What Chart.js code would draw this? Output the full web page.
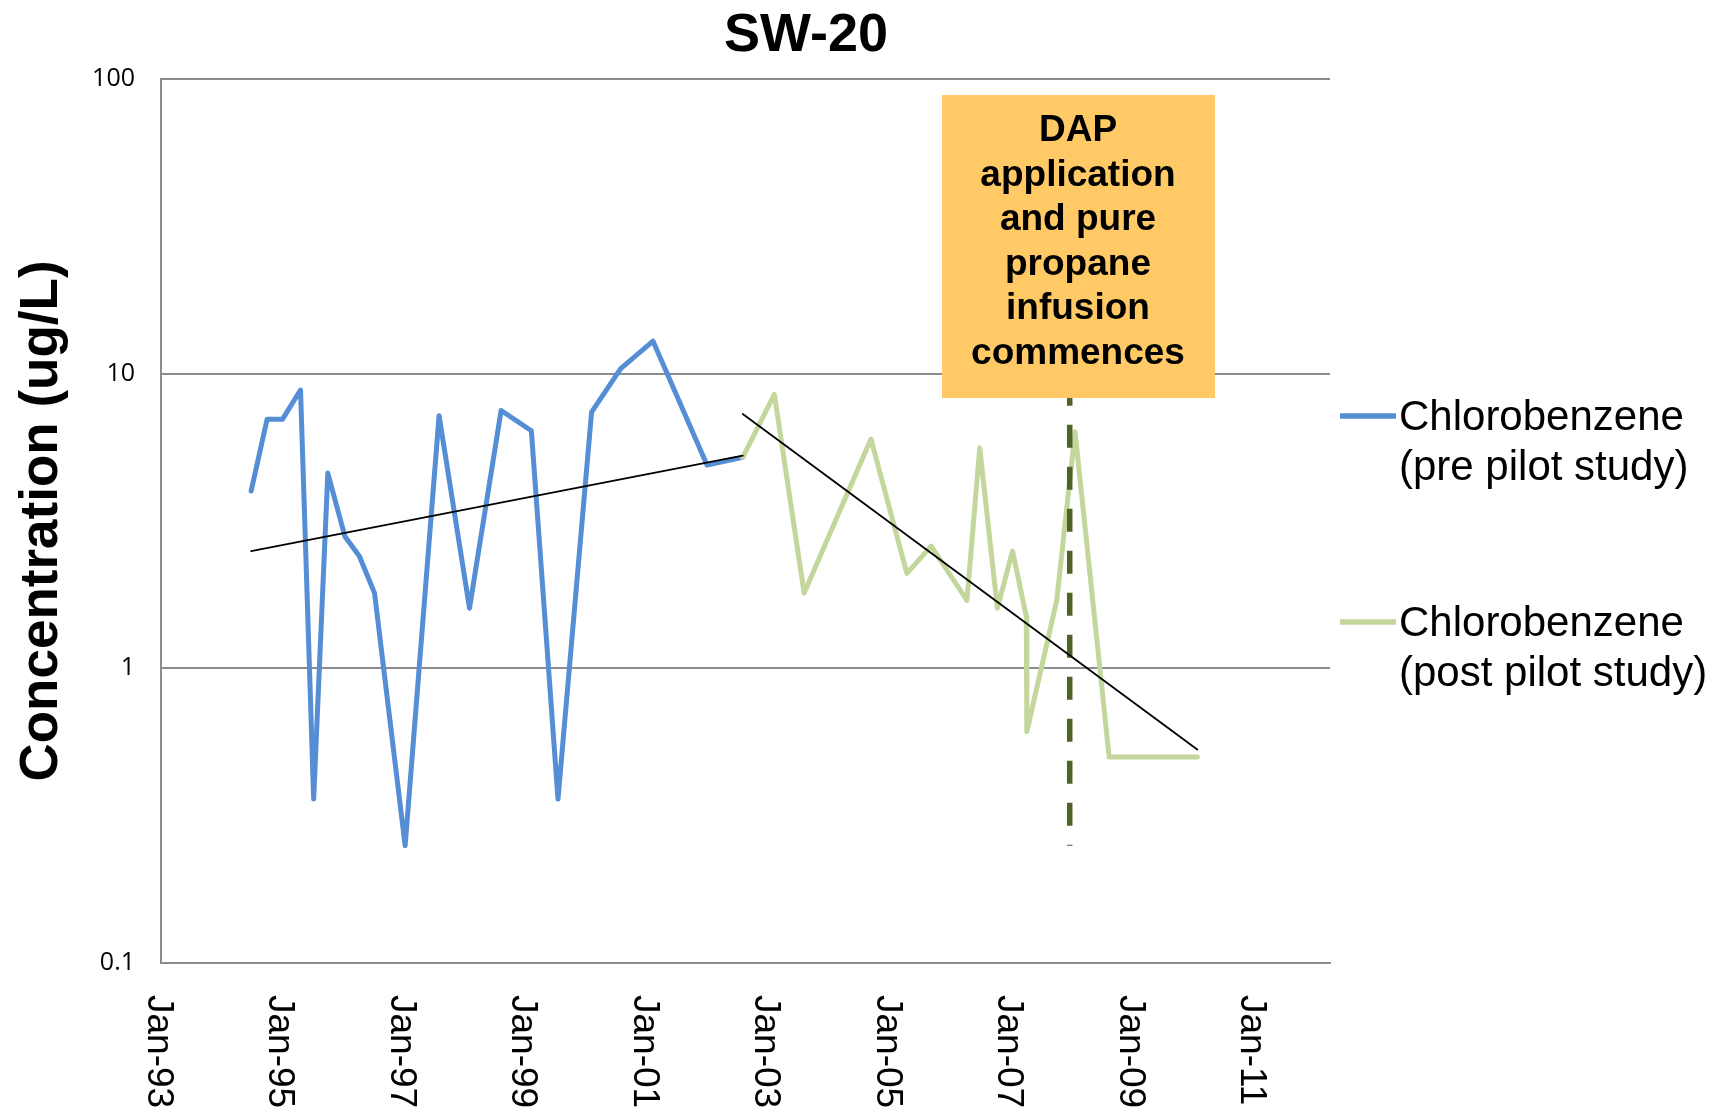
<!DOCTYPE html>
<html>
<head>
<meta charset="utf-8">
<title>SW-20</title>
<script src="https://cdn.jsdelivr.net/npm/chart.js@4.4.1/dist/chart.umd.min.js"></script>
<style>
  html, body { margin: 0; padding: 0; background: #fff; }
  #wrap { width: 1729px; height: 1111px; }
</style>
</head>
<body>
<div id="wrap"><canvas id="sw20Chart" width="1729" height="1111"></canvas></div>
<script>
// Chlorobenzene results (ug/L) before the pilot study
const preDates = ['1994-06-27', '1994-10-01', '1995-01-01', '1995-04-20', '1995-07-08', '1995-10-01',
    '1996-01-12', '1996-04-08', '1996-07-08', '1997-01-08', '1997-07-31', '1998-01-30',
    '1998-08-08', '1999-02-06', '1999-07-16', '2000-02-03', '2000-07-27', '2001-02-06',
    '2001-12-28', '2002-07-31'];
const preValues = [4.0, 7.0, 7.0, 8.8, 0.36, 4.6, 2.8, 2.4, 1.8, 0.25, 7.2, 1.6,
    7.5, 6.4, 0.36, 7.4, 10.4, 12.9, 4.9, 5.2];

// Chlorobenzene results (ug/L) after the pilot study
const postDates = ['2002-07-31', '2003-02-06', '2003-08-04', '2004-09-09', '2005-04-13', '2005-09-06',
    '2006-04-09', '2006-06-25', '2006-10-09', '2007-01-08', '2007-04-01', '2007-04-04',
    '2007-10-01', '2008-01-19', '2008-08-11', '2010-01-23'];
const postValues = [5.2, 8.5, 1.8, 6.0, 2.1, 2.6, 1.7, 5.6, 1.6, 2.5, 1.5, 0.61,
    1.7, 6.35, 0.5, 0.5];

// Trend lines (end points)
const preTrendDates = ['1994-06-27', '2002-07-31'];
const preTrendValues = [2.5, 5.27];
const postTrendDates = ['2002-07-31', '2010-01-23'];
const postTrendValues = [7.3, 0.53];

// DAP / propane start marker
const dapDates = ['2007-12-18', '2007-12-18'];
const dapValues = [10, 0.25];

// Axes
const xRange = ['1993-01-01', '2012-03-31'];
const xTickDates = ['1993-01-01', '1995-01-01', '1997-01-01', '1999-01-01', '2001-01-01',
    '2003-01-01', '2005-01-01', '2007-01-01', '2009-01-01', '2011-01-01'];
const xTickLabels = ['Jan-93', 'Jan-95', 'Jan-97', 'Jan-99', 'Jan-01',
    'Jan-03', 'Jan-05', 'Jan-07', 'Jan-09', 'Jan-11'];
const yTickValues = [0.1, 1, 10, 100];
const yTickLabels = ['0.1', '1', '10', '100'];

// Texts
const chartTitle = 'SW-20';
const yTitle = 'Concentration (ug/L)';
const legendPre = ['Chlorobenzene', '(pre pilot study)'];
const legendPost = ['Chlorobenzene', '(post pilot study)'];
const noteLines = ['DAP', 'application', 'and pure', 'propane', 'infusion', 'commences'];

const FONT = "'Liberation Sans', Arial, sans-serif";
const toTime = s => Date.parse(s + 'T00:00:00Z');
const toPoints = (dates, values) => dates.map((d, i) => ({ x: toTime(d), y: values[i] }));

// Rotated date labels under the x axis
const xLabelPlugin = {
    id: 'xLabels',
    afterDraw(chart) {
        const ctx = chart.ctx;
        const scale = chart.scales.x;
        const top = chart.chartArea.bottom + 32;
        ctx.save();
        ctx.font = '37px ' + FONT;
        ctx.fillStyle = '#000';
        ctx.textAlign = 'left';
        ctx.textBaseline = 'alphabetic';
        scale.ticks.forEach((t, i) => {
            const x = scale.getPixelForValue(t.value);
            ctx.save();
            ctx.translate(x - 13, top);
            ctx.rotate(Math.PI / 2);
            ctx.fillText(xTickLabels[i], 0, 0);
            ctx.restore();
        });
        ctx.restore();
    }
};

// Title and vertical axis title
const titlePlugin = {
    id: 'titles',
    afterDraw(chart) {
        const ctx = chart.ctx;
        ctx.save();
        ctx.fillStyle = '#000';
        ctx.textAlign = 'center';
        ctx.textBaseline = 'alphabetic';
        ctx.font = 'bold 54px ' + FONT;
        ctx.fillText(chartTitle, 806, 51);
        ctx.translate(57, 521);
        ctx.rotate(-Math.PI / 2);
        ctx.font = 'bold 53px ' + FONT;
        ctx.fillText(yTitle, 0, 0);
        ctx.restore();
    }
};

// Orange call-out box
const notePlugin = {
    id: 'noteBox',
    afterDatasetsDraw(chart) {
        const ctx = chart.ctx;
        ctx.save();
        ctx.fillStyle = '#FFC965';
        ctx.fillRect(942, 95, 273, 303);
        ctx.fillStyle = '#000';
        ctx.font = 'bold 37px ' + FONT;
        ctx.textAlign = 'center';
        ctx.textBaseline = 'alphabetic';
        noteLines.forEach((line, i) => ctx.fillText(line, 1078, 141 + i * 44.6));
        ctx.restore();
    }
};

// Legend at the right, two text lines per entry
const sideLegendPlugin = {
    id: 'sideLegend',
    afterDraw(chart) {
        const ctx = chart.ctx;
        const items = chart.data.datasets
            .filter(ds => ds.legendLines)
            .sort((a, b) => a.legendRank - b.legendRank);
        ctx.save();
        ctx.font = '42px ' + FONT;
        ctx.textAlign = 'left';
        ctx.textBaseline = 'alphabetic';
        items.forEach((ds, i) => {
            const y = 416 + i * 206;
            ctx.strokeStyle = ds.borderColor;
            ctx.lineWidth = 5.5;
            ctx.lineCap = 'butt';
            ctx.beginPath();
            ctx.moveTo(1340, y);
            ctx.lineTo(1396, y);
            ctx.stroke();
            ctx.fillStyle = '#000';
            ds.legendLines.forEach((line, j) => ctx.fillText(line, 1399, y + 14 + j * 49.5));
        });
        ctx.restore();
    }
};

const lineStyle = {
    pointRadius: 0,
    pointHoverRadius: 0,
    tension: 0,
    borderJoinStyle: 'round',
    borderCapStyle: 'round',
    fill: false
};

new Chart(document.getElementById('sw20Chart'), {
    type: 'line',
    data: {
        datasets: [
            {
                label: 'Trend (post)',
                data: toPoints(postTrendDates, postTrendValues),
                borderColor: '#000',
                borderWidth: 1.8,
                order: 1,
                ...lineStyle
            },
            {
                label: 'Trend (pre)',
                data: toPoints(preTrendDates, preTrendValues),
                borderColor: '#000',
                borderWidth: 1.8,
                order: 1,
                ...lineStyle
            },
            {
                label: 'DAP start',
                data: toPoints(dapDates, dapValues),
                borderColor: '#4F6228',
                borderWidth: 5.5,
                borderDash: [23, 19],
                borderDashOffset: 33,
                order: 2,
                ...lineStyle,
                borderCapStyle: 'butt'
            },
            {
                label: 'Chlorobenzene (post pilot study)',
                legendLines: legendPost,
                legendRank: 2,
                data: toPoints(postDates, postValues),
                borderColor: '#C3D69B',
                borderWidth: 5,
                order: 3,
                ...lineStyle
            },
            {
                label: 'Chlorobenzene (pre pilot study)',
                legendLines: legendPre,
                legendRank: 1,
                data: toPoints(preDates, preValues),
                borderColor: '#558ED5',
                borderWidth: 5,
                order: 4,
                ...lineStyle
            }
        ]
    },
    options: {
        responsive: false,
        animation: false,
        events: [],
        layout: { padding: { left: 61, top: 79, right: 399, bottom: 148 } },
        plugins: {
            legend: { display: false },
            tooltip: { enabled: false },
            title: { display: false }
        },
        scales: {
            x: {
                type: 'linear',
                min: toTime(xRange[0]),
                max: toTime(xRange[1]),
                afterBuildTicks: scale => {
                    scale.ticks = xTickDates.map(d => ({ value: toTime(d) }));
                },
                afterFit: scale => { scale.height = 0; },
                ticks: { display: false },
                grid: { display: false, drawTicks: false },
                border: { display: true, color: '#8C8C8C', width: 2 }
            },
            y: {
                type: 'logarithmic',
                min: 0.1,
                max: 100,
                afterBuildTicks: scale => {
                    scale.ticks = yTickValues.map(v => ({ value: v }));
                },
                afterFit: scale => { scale.width = 100; },
                ticks: {
                    padding: 26,
                    color: '#000',
                    font: { family: "'Open Sans', sans-serif", size: 25 },
                    callback: (value) => yTickLabels[yTickValues.indexOf(value)]
                },
                grid: { color: '#8C8C8C', lineWidth: 2, drawTicks: false },
                border: { display: true, color: '#8C8C8C', width: 2 }
            }
        }
    },
    plugins: [xLabelPlugin, titlePlugin, notePlugin, sideLegendPlugin]
});
</script>
</body>
</html>
